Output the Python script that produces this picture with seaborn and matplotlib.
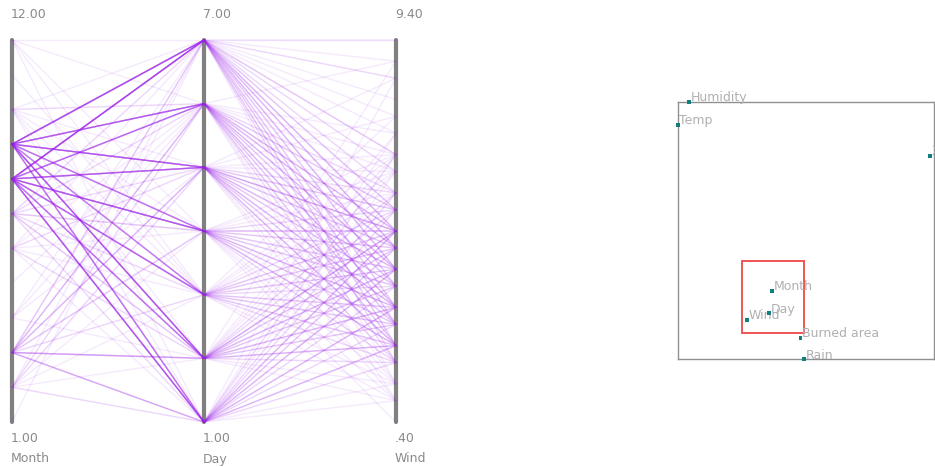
import numpy as np
import pandas as pd
import matplotlib
matplotlib.use("Agg")
import matplotlib.pyplot as plt
from matplotlib.patches import Rectangle
import seaborn as sns

# ---- data -----------------------------------------------------------------
dimensions = ["Month", "Day", "Wind"]
months = [1, 2, 3, 4, 5, 6, 7, 8, 9, 10, 11, 12]
days = [1, 2, 3, 4, 5, 6, 7]
wind_levels = [0.4, 0.9, 1.3, 1.8, 2.2, 2.7, 3.1, 3.6, 4.0, 4.5, 4.9,
               5.4, 5.8, 6.3, 6.7, 7.2, 7.6, 8.0, 8.5, 8.9, 9.4]

# number of records per (month, day); rows = month 1..12, cols = day 1..7
month_day_counts = [
    [0, 0, 0, 0, 0, 0, 1],
    [2, 1, 1, 1, 2, 2, 1],
    [5, 6, 2, 3, 4, 4, 3],
    [0, 1, 0, 0, 1, 1, 1],
    [0, 0, 0, 0, 0, 1, 0],
    [1, 2, 1, 1, 2, 1, 1],
    [2, 3, 2, 3, 2, 2, 2],
    [14, 10, 12, 14, 13, 11, 18],
    [10, 14, 9, 10, 14, 13, 16],
    [1, 1, 1, 1, 1, 2, 1],
    [0, 0, 1, 0, 0, 0, 0],
    [1, 0, 1, 1, 0, 1, 1],
]

# number of records per (day, wind level); rows = day 1..7
day_wind_counts = [
    [0, 1, 1, 2, 4, 2, 4, 2, 4, 3, 4, 2, 2, 1, 2, 1, 0, 0, 1, 0, 0],
    [0, 1, 1, 2, 4, 3, 4, 3, 4, 3, 5, 2, 2, 1, 1, 1, 0, 0, 0, 1, 0],
    [0, 1, 1, 2, 3, 3, 3, 2, 3, 3, 3, 2, 1, 1, 1, 0, 1, 0, 0, 0, 0],
    [1, 1, 1, 2, 4, 3, 4, 3, 3, 3, 4, 2, 1, 1, 1, 0, 0, 0, 0, 0, 0],
    [0, 1, 1, 2, 4, 3, 4, 3, 4, 3, 5, 3, 2, 1, 1, 0, 1, 0, 1, 0, 0],
    [0, 1, 1, 2, 3, 3, 4, 3, 4, 4, 4, 3, 2, 1, 1, 1, 0, 0, 0, 1, 0],
    [0, 0, 1, 2, 3, 3, 3, 3, 4, 4, 4, 3, 2, 2, 3, 1, 1, 1, 2, 1, 2],
]

# 2-D projection of the variables (overview map)
proj_names = ["Humidity", "Temp", "X", "Month", "Day", "Wind",
              "Burned area", "Rain"]
proj_x = [0.044, 0.0, 0.984, 0.367, 0.355, 0.270, 0.479, 0.492]
proj_y = [1.0, 0.910, 0.791, 0.265, 0.179, 0.153, 0.084, 0.0]
brush_x = [0.250, 0.493]
brush_y = [0.103, 0.382]

# ---- build records --------------------------------------------------------
md = np.array(month_day_counts)
dw = np.array(day_wind_counts)
rec_m, rec_d, rec_w = [], [], []
for j, d in enumerate(days):
    m_list = np.repeat(months, md[:, j])
    w_list = np.repeat(wind_levels, dw[j])
    n = min(len(m_list), len(w_list))
    rec_m.extend(m_list[:n])
    rec_d.extend([d] * n)
    rec_w.extend(w_list[:n])

records = pd.DataFrame({"Month": rec_m, "Day": rec_d, "Wind": rec_w})
lo = records.min()
hi = records.max()
norm = (records - lo) / (hi - lo)
norm["row"] = np.arange(len(norm))
long = norm.melt(id_vars="row", var_name="dim", value_name="value")
long["pos"] = long["dim"].map({d: i for i, d in enumerate(dimensions)})
long = long.sort_values(["row", "pos"])

# ---- figure ---------------------------------------------------------------
sns.set_theme(style="white")
plt.rcParams["font.family"] = ["DejaVu Sans"]
W, H = 935, 467
fig = plt.figure(figsize=(W / 100, H / 100), dpi=100)

x0, x1, ytop, ybot = 12, 396, 40, 422
ax = fig.add_axes([x0 / W, (H - ybot) / H, (x1 - x0) / W, (ybot - ytop) / H])
ax.set_xlim(0, len(dimensions) - 1)
ax.set_ylim(0, 1)
ax.axis("off")

for i in range(len(dimensions)):
    ax.axvline(i, color="#808080", lw=3.0, zorder=1, clip_on=False)

sns.lineplot(data=long, x="pos", y="value", units="row", estimator=None,
             sort=False, color="#a020f0", alpha=0.095, lw=1.0, ax=ax,
             legend=False, zorder=2)
for ln in ax.lines[len(dimensions):]:
    ln.set_clip_on(False)
ax.set_xlabel("")
ax.set_ylabel("")

txt_color = "#8a8a8a"
for i, dim in enumerate(dimensions):
    xf = (x0 + i * (x1 - x0) / (len(dimensions) - 1) - 1) / W
    top = f"{hi[dim]:.2f}".lstrip("0")
    bot = f"{lo[dim]:.2f}".lstrip("0")
    fig.text(xf, 1 - 15 / H, top, ha="left", va="center", fontsize=9,
             color=txt_color)
    fig.text(xf, 1 - 438 / H, bot, ha="left", va="center", fontsize=9,
             color=txt_color)
    fig.text(xf, 1 - 459 / H, dim, ha="left", va="center", fontsize=9,
             color=txt_color)

# ---- overview map ---------------------------------------------------------
bl, bt, br, bb = 678, 102, 934, 359.3
ax2 = fig.add_axes([bl / W, (H - bb) / H, (br - bl) / W, (bb - bt) / H])
ax2.set_xlim(0, 1)
ax2.set_ylim(0, 1)
ax2.set_xticks([])
ax2.set_yticks([])
for s in ax2.spines.values():
    s.set_color("#909090")
    s.set_linewidth(1.0)

ax2.add_patch(Rectangle((brush_x[0], brush_y[0]), brush_x[1] - brush_x[0],
                        brush_y[1] - brush_y[0], fill=False,
                        edgecolor="#f04848", lw=1.3, zorder=3))

proj = pd.DataFrame({"name": proj_names, "x": proj_x, "y": proj_y})
sns.scatterplot(data=proj, x="x", y="y", marker="s", s=7, color="#127f7f",
                edgecolor="none", ax=ax2, zorder=4, clip_on=False,
                legend=False)
ax2.set_xlabel("")
ax2.set_ylabel("")
for _, r in proj.iterrows():
    ax2.annotate(r["name"], (r["x"], r["y"]), xytext=(1, 3),
                 textcoords="offset points", ha="left", va="center",
                 fontsize=9, color="#b0b0b0", annotation_clip=False)

fig.savefig("out.png", dpi=100)
